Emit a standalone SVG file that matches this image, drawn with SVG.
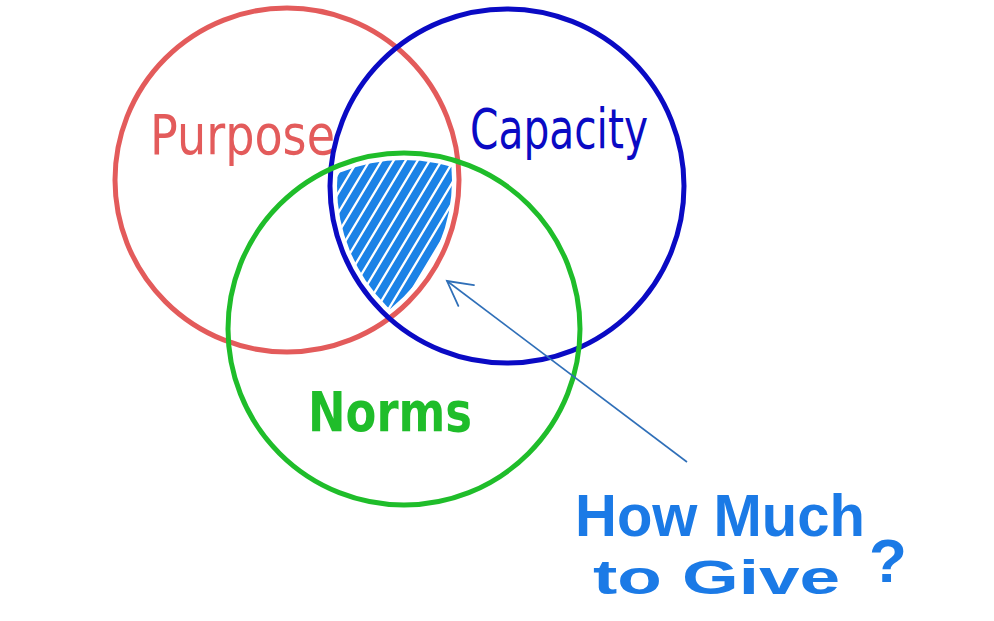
<svg xmlns="http://www.w3.org/2000/svg" width="994" height="621" viewBox="0 0 994 621">
<style>
.c{fill:none;stroke-width:5}
.t{font-family:"DejaVu Sans","Liberation Sans",sans-serif}
.q{font-family:"Liberation Sans","DejaVu Sans",sans-serif;font-weight:bold;fill:#1b7ae6}
.h{stroke:#1b82e6;stroke-width:8;stroke-linecap:round;fill:none}
</style>
<defs>
<clipPath id="cr"><circle cx="287" cy="180" r="165"/></clipPath>
<clipPath id="cb"><circle cx="507" cy="186" r="170"/></clipPath>
<clipPath id="cg"><circle cx="404" cy="329" r="169"/></clipPath>
<marker id="ah" viewBox="0 0 30 30" refX="27" refY="15" markerWidth="30" markerHeight="30" markerUnits="userSpaceOnUse" orient="auto">
<path d="M3,2 L27,15 L3,28" fill="none" stroke="#2f6fb8" stroke-width="1.8" stroke-linecap="round"/>
</marker>
</defs>
<rect width="994" height="621" fill="#ffffff"/>
<g id="hatch">
<g clip-path="url(#cr)"><g clip-path="url(#cb)"><g clip-path="url(#cg)">
<path class="h" d="M250,310 l108,-180 M262,310 l108,-180 M274,310 l108,-180 M286,310 l108,-180 M298,310 l108,-180 M310,310 l108,-180 M322,310 l108,-180 M334,310 l108,-180 M346,310 l108,-180 M358,310 l108,-180 M370,310 l108,-180 M382,310 l108,-180 M394,310 l108,-180"/>
</g></g></g>
</g>
<g id="purpose">
<circle class="c" cx="287" cy="180" r="172" stroke="#e35b5b"/>
<text class="t" x="150" y="154" font-size="56" fill="#e35b5b" textLength="185" lengthAdjust="spacingAndGlyphs">Purpose</text>
</g>
<g id="capacity">
<circle class="c" cx="507" cy="186" r="177" stroke="#0a0ac4"/>
<text class="t" x="470" y="148" font-size="56" fill="#0a0ac4" textLength="178" lengthAdjust="spacingAndGlyphs">Capacity</text>
</g>
<g id="norms">
<circle class="c" cx="404" cy="329" r="176" stroke="#1fbd2a"/>
<text class="t" x="308" y="431" font-size="56" font-weight="bold" fill="#1fbd2a" textLength="164" lengthAdjust="spacingAndGlyphs">Norms</text>
</g>
<g id="question">
<text class="q" x="575" y="536" font-size="60" textLength="290" lengthAdjust="spacingAndGlyphs">How Much</text>
<text class="q" x="593" y="594" font-size="48" textLength="247" lengthAdjust="spacingAndGlyphs">to Give</text>
<text class="q" x="869" y="582" font-size="62">?</text>
</g>
<g id="connectors">
<line x1="687" y1="462" x2="447" y2="281" stroke="#2f6fb8" stroke-width="1.6" marker-end="url(#ah)"/>
</g>
</svg>
